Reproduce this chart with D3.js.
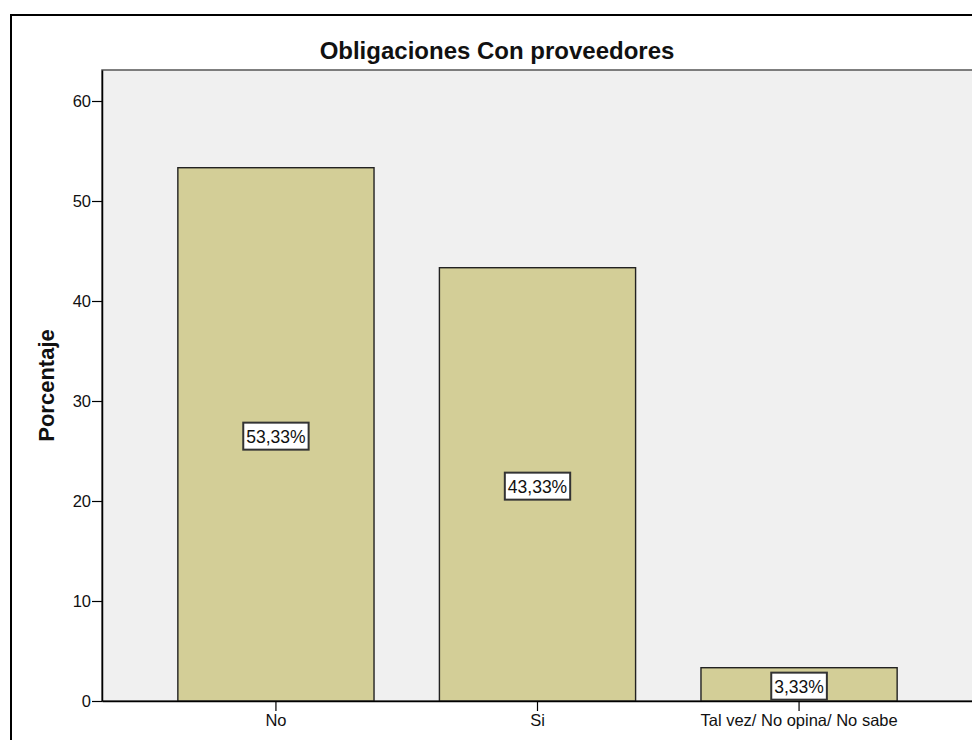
<!DOCTYPE html>
<html>
<head>
<meta charset="utf-8">
<script src="https://cdn.jsdelivr.net/npm/d3@7"></script>
<style>
  html, body { margin: 0; padding: 0; background: #fff; overflow: hidden; }
  svg { display: block; font-family: "Liberation Sans", Arial, sans-serif; }
</style>
</head>
<body>
<div id="chart"></div>
<script>
// data
const categories = ['No', 'Si', 'Tal vez/ No opina/ No sabe'];
const percentages = [53.33, 43.33, 3.33];
const yTicks = [0, 10, 20, 30, 40, 50, 60];

const TITLE = 'Obligaciones Con proveedores';
const Y_LABEL = 'Porcentaje';

const COLORS = {
  plotBg: '#f0f0f0',
  bar: '#d3ce97',
  barStroke: '#222',
};

const W = 972, H = 740;
const plot = { left: 102, right: 973, top: 70, bottom: 701 };

const svg = d3.select('#chart').append('svg')
  .attr('width', W).attr('height', H);

// outer frame (runs off the right and bottom edge like the screenshot)
svg.append('rect')
  .attr('x', 11).attr('y', 15)
  .attr('width', 1000).attr('height', 800)
  .attr('fill', '#fff').attr('stroke', '#000').attr('stroke-width', 2);

const x = d3.scaleBand()
  .domain(categories)
  .range([plot.left, plot.right])
  .paddingInner(0.25)
  .paddingOuter(0.29);

const y = d3.scaleLinear()
  .domain([0, 63.1])
  .range([plot.bottom, plot.top]);

// plot background
svg.append('rect')
  .attr('x', plot.left).attr('y', plot.top)
  .attr('width', plot.right - plot.left).attr('height', plot.bottom - plot.top)
  .attr('fill', COLORS.plotBg)
  .attr('stroke', '#555').attr('stroke-width', 1.5);

// bars
svg.selectAll('.bar')
  .data(categories)
  .enter().append('rect')
  .attr('class', 'bar')
  .attr('x', (d) => x(d))
  .attr('y', (d, i) => y(percentages[i]))
  .attr('width', x.bandwidth())
  .attr('height', (d, i) => y(0) - y(percentages[i]))
  .attr('fill', COLORS.bar)
  .attr('stroke', COLORS.barStroke)
  .attr('stroke-width', 1.4);

// y axis
const yAxis = svg.append('g')
  .attr('transform', 'translate(' + plot.left + ',0)')
  .call(d3.axisLeft(y).tickValues(yTicks).tickSize(10).tickSizeOuter(0).tickPadding(1));
yAxis.select('.domain').attr('stroke', '#000').attr('stroke-width', 1.5);
yAxis.selectAll('.tick line').attr('stroke', '#000').attr('stroke-width', 1.2);
yAxis.selectAll('.tick text').attr('font-size', 16.5).attr('fill', '#111')
  .attr('font-family', '"Liberation Sans", Arial, sans-serif');

// x axis
const xAxis = svg.append('g')
  .attr('transform', 'translate(0,' + plot.bottom + ')')
  .call(d3.axisBottom(x).tickSize(10).tickSizeOuter(0).tickPadding(3));
xAxis.select('.domain').attr('stroke', '#000').attr('stroke-width', 1.5);
xAxis.selectAll('.tick line').attr('stroke', '#000').attr('stroke-width', 1.2);
xAxis.selectAll('.tick text').attr('font-size', 16.5).attr('fill', '#111')
  .attr('font-family', '"Liberation Sans", Arial, sans-serif');

// value labels in boxes, centred at half the bar height
const labels = svg.selectAll('.val')
  .data(categories)
  .enter().append('g')
  .attr('class', 'val')
  .attr('transform', (d, i) =>
    'translate(' + (x(d) + x.bandwidth() / 2) + ',' + (y(percentages[i] / 2) + 2) + ')');

labels.append('text')
  .attr('text-anchor', 'middle')
  .attr('dy', '0.36em')
  .attr('font-size', 17.5)
  .attr('fill', '#111')
  .text((d, i) => percentages[i].toFixed(2).replace('.', ',') + '%');

labels.each(function () {
  const g = d3.select(this);
  const bb = g.select('text').node().getBBox();
  g.insert('rect', 'text')
    .attr('x', bb.x - 3).attr('y', bb.y - 4)
    .attr('width', bb.width + 6).attr('height', bb.height + 7)
    .attr('fill', '#fff').attr('stroke', '#333').attr('stroke-width', 2);
});

// title
svg.append('text')
  .attr('x', 497).attr('y', 59)
  .attr('text-anchor', 'middle')
  .attr('font-size', 24).attr('font-weight', 'bold')
  .attr('fill', '#111')
  .text(TITLE);

// y axis title
svg.append('text')
  .attr('transform', 'translate(54,' + ((plot.top + plot.bottom) / 2) + ') rotate(-90)')
  .attr('text-anchor', 'middle')
  .attr('font-size', 22).attr('font-weight', 'bold')
  .attr('fill', '#111')
  .text(Y_LABEL);
</script>
</body>
</html>
